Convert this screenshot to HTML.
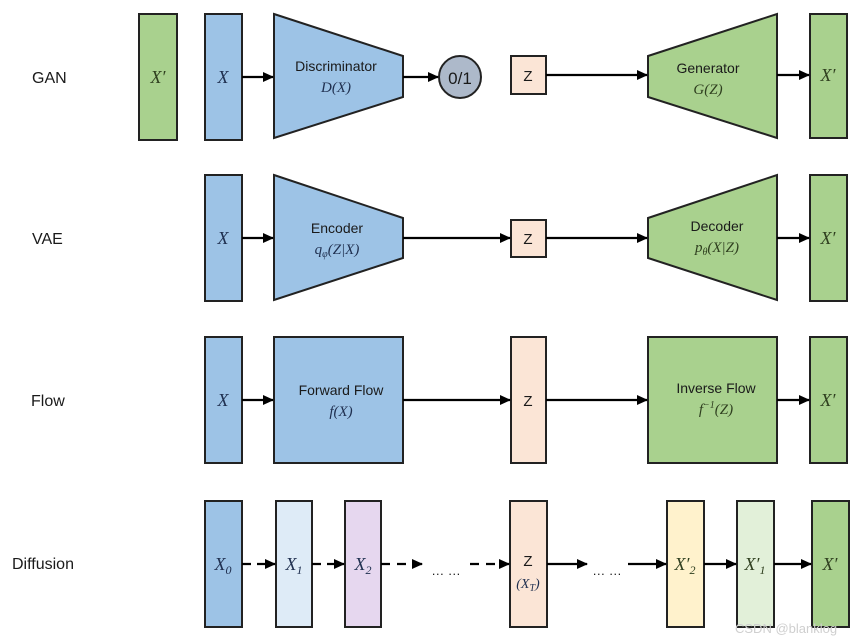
<!DOCTYPE html>
<html><head><meta charset="utf-8"><style>
html,body{margin:0;padding:0;background:#fff;width:862px;height:642px;overflow:hidden}
text{font-family:"Liberation Sans",sans-serif;fill:#1a1a1a}
.m{font-family:"Liberation Serif",serif;font-style:italic;fill:#1f2f4f}
.mg{font-family:"Liberation Serif",serif;font-style:italic;fill:#2f3f1f}
</style></head><body>
<svg width="862" height="642" viewBox="0 0 862 642" xmlns="http://www.w3.org/2000/svg">
<defs>
<marker id="a" markerWidth="11" markerHeight="10" refX="10" refY="5" orient="auto" markerUnits="userSpaceOnUse"><path d="M0,0 L11,5 L0,10 z" fill="#000"/></marker>
</defs>
<g font-size="16">
<text x="32" y="83">GAN</text>
<text x="32" y="244">VAE</text>
<text x="31" y="406">Flow</text>
<text x="12" y="569">Diffusion</text>
</g>
<g stroke="#222" stroke-width="2">
<rect x="139" y="14" width="38" height="126" fill="#a9d18e"/>
<rect x="205" y="14" width="37" height="126" fill="#9dc3e6"/>
<polygon points="274,14 403,56 403,97 274,138" fill="#9dc3e6"/>
<circle cx="460" cy="77" r="21" fill="#adb9ca"/>
<rect x="511" y="56" width="35" height="38" fill="#fbe5d6"/>
<polygon points="648,56 777,14 777,138 648,97" fill="#a9d18e"/>
<rect x="810" y="14" width="37" height="124" fill="#a9d18e"/>
<rect x="205" y="175" width="37" height="126" fill="#9dc3e6"/>
<polygon points="274,175 403,218 403,258 274,300" fill="#9dc3e6"/>
<rect x="511" y="220" width="35" height="37" fill="#fbe5d6"/>
<polygon points="648,218 777,175 777,300 648,258" fill="#a9d18e"/>
<rect x="810" y="175" width="37" height="126" fill="#a9d18e"/>
<rect x="205" y="337" width="37" height="126" fill="#9dc3e6"/>
<rect x="274" y="337" width="129" height="126" fill="#9dc3e6"/>
<rect x="511" y="337" width="35" height="126" fill="#fbe5d6"/>
<rect x="648" y="337" width="129" height="126" fill="#a9d18e"/>
<rect x="810" y="337" width="37" height="126" fill="#a9d18e"/>
<rect x="205" y="501" width="37" height="126" fill="#9dc3e6"/>
<rect x="276" y="501" width="36" height="126" fill="#deebf7"/>
<rect x="345" y="501" width="36" height="126" fill="#e6d7ef"/>
<rect x="510" y="501" width="37" height="126" fill="#fbe5d6"/>
<rect x="667" y="501" width="37" height="126" fill="#fff2cc"/>
<rect x="737" y="501" width="37" height="126" fill="#e2f0d9"/>
<rect x="812" y="501" width="37" height="126" fill="#a9d18e"/>
</g>
<g stroke="#000" stroke-width="2.2" fill="none" marker-end="url(#a)">
<line x1="242" y1="77" x2="273" y2="77"/>
<line x1="403" y1="77" x2="438" y2="77"/>
<line x1="546" y1="75" x2="647" y2="75"/>
<line x1="777" y1="75" x2="809" y2="75"/>
<line x1="242" y1="238" x2="273" y2="238"/>
<line x1="403" y1="238" x2="510" y2="238"/>
<line x1="546" y1="238" x2="647" y2="238"/>
<line x1="777" y1="238" x2="809" y2="238"/>
<line x1="242" y1="400" x2="273" y2="400"/>
<line x1="403" y1="400" x2="510" y2="400"/>
<line x1="546" y1="400" x2="647" y2="400"/>
<line x1="777" y1="400" x2="809" y2="400"/>
<line x1="242" y1="564" x2="275" y2="564" stroke-dasharray="9,6"/>
<line x1="312" y1="564" x2="344" y2="564" stroke-dasharray="9,6"/>
<line x1="381" y1="564" x2="422" y2="564" stroke-dasharray="9,7"/>
<line x1="470" y1="564" x2="509" y2="564" stroke-dasharray="9,7"/>
<line x1="547" y1="564" x2="587" y2="564"/>
<line x1="628" y1="564" x2="666" y2="564"/>
<line x1="704" y1="564" x2="736" y2="564"/>
<line x1="774" y1="564" x2="811" y2="564"/>
</g>
<g text-anchor="middle">
<text class="mg" x="158" y="83" font-size="18">X′</text>
<text class="m" x="223" y="83" font-size="18">X</text>
<text x="336" y="71" font-size="14" fill="#1f2f4f">Discriminator</text>
<text class="m" x="336" y="92" font-size="15">D(X)</text>
<text x="460" y="84" font-size="17">0/1</text>
<text x="528" y="81" font-size="15">Z</text>
<text x="708" y="73" font-size="14">Generator</text>
<text class="mg" x="708" y="94" font-size="15">G(Z)</text>
<text class="mg" x="828" y="81" font-size="18">X′</text>
<text class="m" x="223" y="244" font-size="18">X</text>
<text x="337" y="233" font-size="14">Encoder</text>
<text class="m" x="337" y="254" font-size="15">q<tspan font-size="10" dy="3">φ</tspan><tspan dy="-3">(Z|X)</tspan></text>
<text x="528" y="244" font-size="15">Z</text>
<text x="717" y="231" font-size="14">Decoder</text>
<text class="mg" x="717" y="252" font-size="15">p<tspan font-size="10" dy="3">θ</tspan><tspan dy="-3">(X|Z)</tspan></text>
<text class="mg" x="828" y="244" font-size="18">X′</text>
<text class="m" x="223" y="406" font-size="18">X</text>
<text x="341" y="395" font-size="14">Forward Flow</text>
<text class="m" x="341" y="416" font-size="15">f(X)</text>
<text x="528" y="406" font-size="15">Z</text>
<text x="716" y="393" font-size="14">Inverse Flow</text>
<text class="mg" x="716" y="414" font-size="15">f<tspan font-size="10" dy="-6">−1</tspan><tspan dy="6">(Z)</tspan></text>
<text class="mg" x="828" y="406" font-size="18">X′</text>
<text class="m" x="223" y="570" font-size="18">X<tspan font-size="12" dy="4">0</tspan></text>
<text class="m" x="294" y="570" font-size="18">X<tspan font-size="12" dy="4">1</tspan></text>
<text class="m" x="363" y="570" font-size="18">X<tspan font-size="12" dy="4">2</tspan></text>
<text x="446" y="575" font-size="13">… …</text>
<text x="528" y="566" font-size="15">Z</text>
<text class="m" x="528" y="588" font-size="14">(X<tspan font-size="10" dy="3">T</tspan><tspan dy="-3">)</tspan></text>
<text x="607" y="575" font-size="13">… …</text>
<text class="mg" x="685" y="570" font-size="18">X′<tspan font-size="12" dy="4">2</tspan></text>
<text class="mg" x="755" y="570" font-size="18">X′<tspan font-size="12" dy="4">1</tspan></text>
<text class="mg" x="830" y="570" font-size="18">X′</text>
</g>
<text x="735" y="633" font-size="13" style="fill:#cfcfcf">CSDN @blanklog</text>
</svg>
</body></html>
